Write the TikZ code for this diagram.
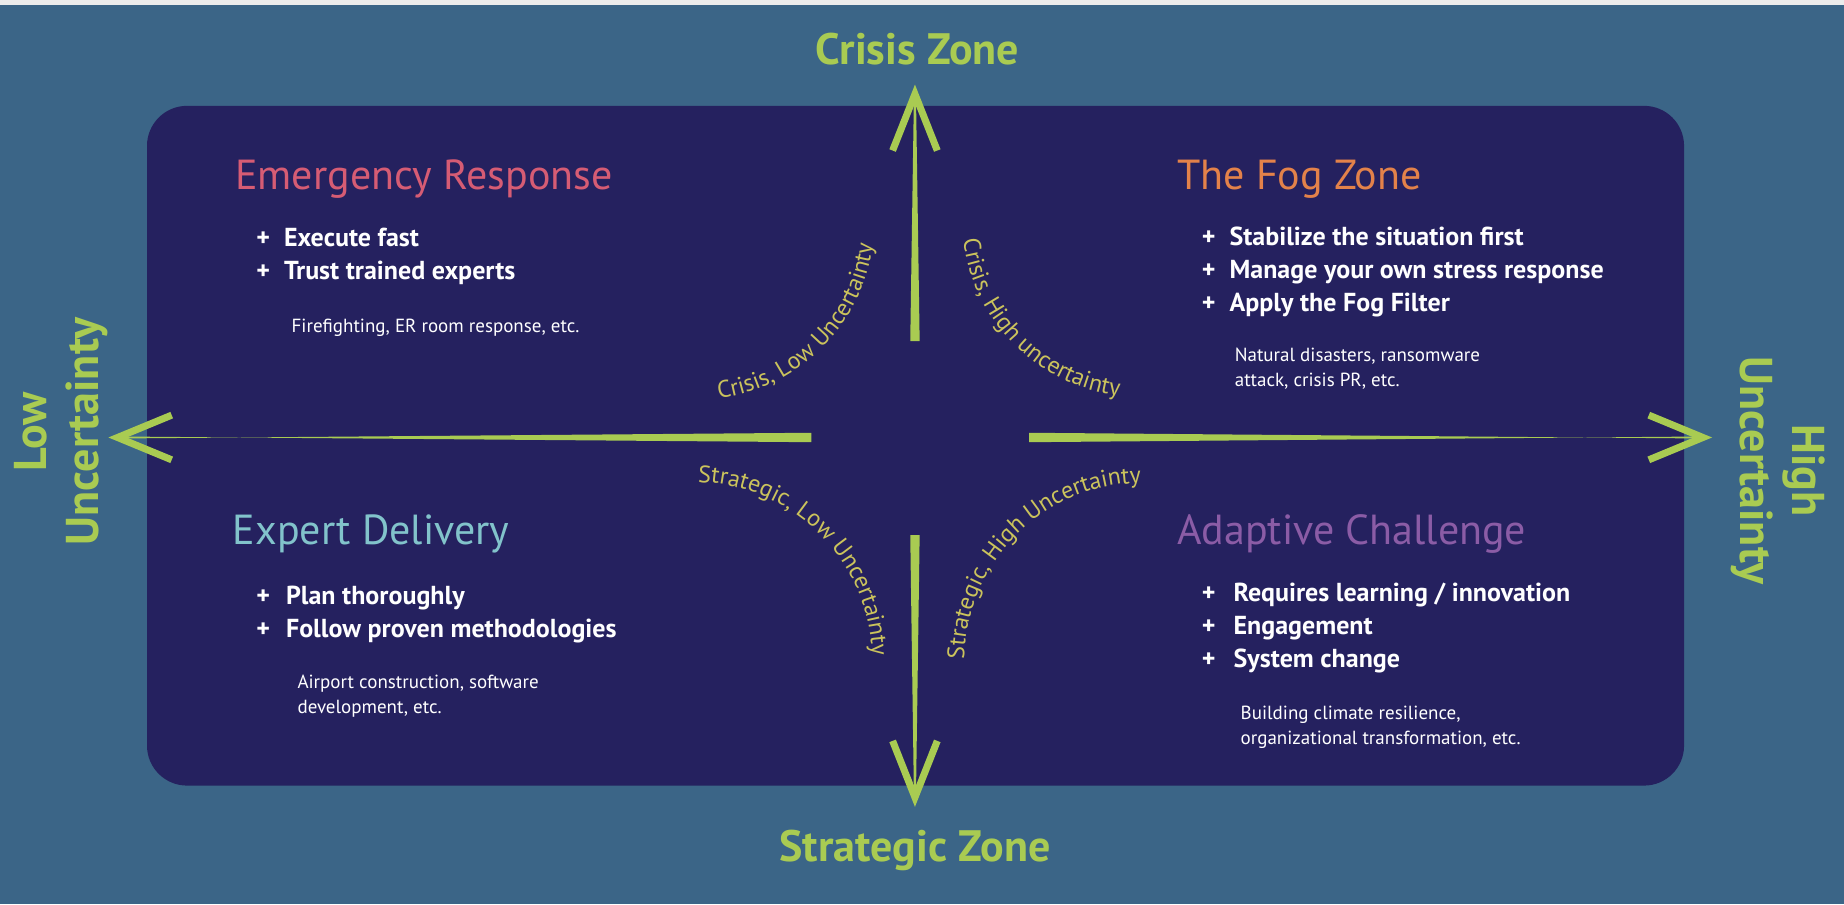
\documentclass[tikz,border=0pt]{standalone}
\usepackage{fontspec}
\setmainfont{PT Sans}
\usetikzlibrary{decorations.text}
\definecolor{bgteal}{HTML}{3B6587}
\definecolor{inner}{HTML}{25215F}
\definecolor{agreen}{HTML}{A9CB52}
\definecolor{alab}{HTML}{CBC35C}
\definecolor{cred}{HTML}{D65C74}
\definecolor{corange}{HTML}{E3824A}
\definecolor{cteal}{HTML}{82C3CB}
\definecolor{cpurple}{HTML}{8B5CA6}
\begin{document}
\begin{tikzpicture}[x=1.176pt,y=-1.176pt,
  title/.style={anchor=base west,font=\fontsize{42}{42}\selectfont},
  bul/.style={anchor=base west,white,font=\bfseries\fontsize{26}{33}\selectfont,align=left},
  ex/.style={anchor=base west,white,font=\fontsize{19}{25}\selectfont,align=left},
  zone/.style={agreen,font=\bfseries\fontsize{44}{44}\selectfont},
  axl/.style={agreen,font=\bfseries\fontsize{46}{52}\selectfont,align=center},
  shaft/.style={fill=agreen},
  head/.style={draw=agreen,line width=7pt,miter limit=20},
  curv/.style={decorate,decoration={text along path,text align=center,
     text={|\fontsize{24}{24}\selectfont\color{alab}|#1}}}]
\useasboundingbox (0,0) rectangle (1568,769);
\fill[bgteal] (0,0) rectangle (1568,769);
\fill[gray!15] (0,0) rectangle (1568,4);
\fill[inner,rounded corners=40pt] (125,90) rectangle (1432,668);
% zone labels
\node[zone] (cz) at (780,42) {Crisis Zone};
\node[zone] (sz) at (778,723) {Strategic Zone};
\node[axl,rotate=90] (lu) at (52,367) {Low\\Uncertainty};
\node[axl,rotate=-90] (hu) at (1512,400) {High\\Uncertainty};
% arrows
\coordinate (c) at (778,372);
\coordinate (tup) at (778,80);
\coordinate (tdn) at (778,678);
\coordinate (tl) at (100,372);
\coordinate (tr) at (1448,372);
\fill[shaft] (774,290) -- (782,290) -- ([xshift=1]tup) -- ([xshift=-1]tup) -- cycle;
\draw[head] (759,128) -- (tup) -- (797,128);
\fill[shaft] (774,455) -- (782,455) -- ([xshift=1]tdn) -- ([xshift=-1]tdn) -- cycle;
\draw[head] (759,630) -- (tdn) -- (797,630);
\fill[shaft] (690,368) -- (690,376) -- ([yshift=1]tl) -- ([yshift=-1]tl) -- cycle;
\draw[head] (146,353) -- (tl) -- (146,391);
\fill[shaft] (875,368) -- (875,376) -- ([yshift=1]tr) -- ([yshift=-1]tr) -- cycle;
\draw[head] (1402,353) -- (tr) -- (1402,391);
% curved labels
\path[curv={Crisis, Low Uncertainty}] (592,340) arc[start angle=-90,end angle=0,radius=178pt];
\path[curv={Crisis, High uncertainty}] (818,186) arc[start angle=180,end angle=270,radius=178pt];
\path[curv={Strategic, Low Uncertainty}] (590,410) arc[start angle=90,end angle=0,radius=178pt];
\path[curv={Strategic, High Uncertainty}] (820,562) arc[start angle=180,end angle=90,radius=178pt];
% quadrants
\node[title,cred] (er) at (197,161) {Emergency Response};
\node[bul] (erb) at (215,238) {+\hspace{14pt}Execute fast\\+\hspace{14pt}Trust trained experts};
\node[ex] (ere) at (245,283) {Firefighting, ER room response, etc.};
\node[title,corange] (fz) at (998,161) {The Fog Zone};
\node[bul] (fzb) at (1019,265) {+\hspace{14pt}Stabilize the situation first\\+\hspace{14pt}Manage your own stress response\\+\hspace{14pt}Apply the Fog Filter};
\node[ex] (fze) at (1047,329) {Natural disasters, ransomware\\attack, crisis PR, etc.};
\node[title,cteal] (ed) at (195,463) {Expert Delivery};
\node[bul] (edb) at (215,542) {+\hspace{16pt}Plan thoroughly\\+\hspace{16pt}Follow proven methodologies};
\node[ex] (ede) at (250,607) {Airport construction, software\\development, etc.};
\node[title,cpurple] (ac) at (998,463) {Adaptive Challenge};
\node[bul] (acb) at (1019,568) {+\hspace{18pt}Requires learning / innovation\\+\hspace{18pt}Engagement\\+\hspace{18pt}System change};
\node[ex] (ace) at (1052,633) {Building climate resilience,\\organizational transformation, etc.};
\end{tikzpicture}
\end{document}
